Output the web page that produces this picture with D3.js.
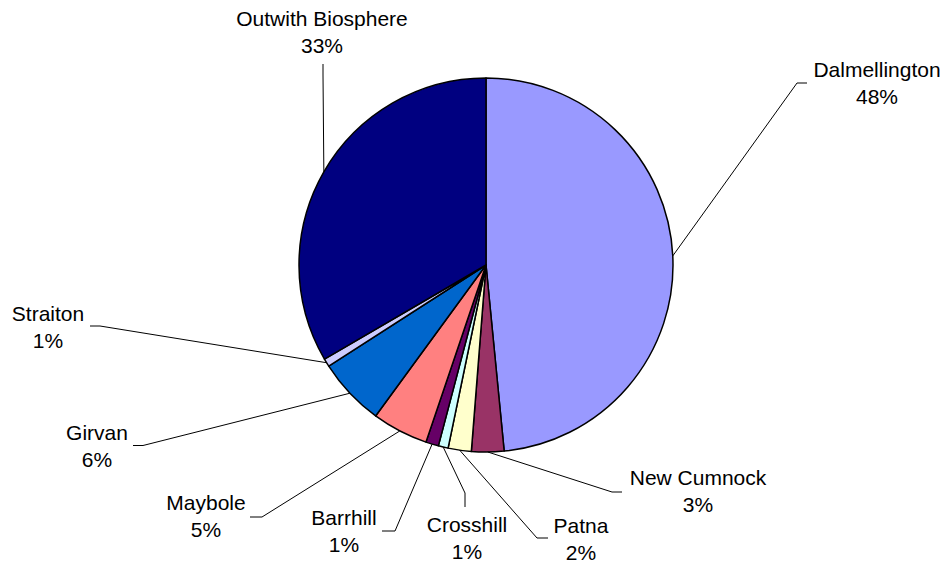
<!DOCTYPE html>
<html>
<head>
<meta charset="utf-8">
<script src="https://cdn.jsdelivr.net/npm/d3@7"></script>
<style>
  html, body { margin: 0; padding: 0; background: #ffffff; }
  svg { display: block; }
  text { font-family: "Liberation Sans", Arial, sans-serif; font-size: 21px; fill: #000; }
</style>
</head>
<body>
<svg id="chart" width="948" height="568"></svg>
<script>
// ---- data ----
const categories = ["Dalmellington", "New Cumnock", "Patna", "Crosshill", "Barrhill",
                    "Maybole", "Girvan", "Straiton", "Outwith Biosphere"];
const values = [48.45, 2.8, 2.0, 0.85, 1.1, 4.85, 5.85, 0.7, 33.4];
const colors = ["#9999FF", "#993366", "#FFFFCC", "#CCFFFF", "#660066",
                "#FF8080", "#0066CC", "#CCCCFF", "#000080"];

// ---- layout (label centre x, first baseline y; leader elbow + end) ----
const labelLayout = [
  { x: 877, y: 77,  elbow: [797, 83],  end: [807, 83] },
  { x: 698, y: 485, elbow: [612, 492], end: [622, 492] },
  { x: 581, y: 533, elbow: [537, 538], end: [548, 538] },
  { x: 467, y: 532, elbow: [465, 493], end: [465, 507] },
  { x: 344, y: 525, elbow: [395, 531], end: [382, 531] },
  { x: 206, y: 510, elbow: [262, 517], end: [250, 517] },
  { x: 97,  y: 440, elbow: [143, 445.5], end: [133, 445.5] },
  { x: 48,  y: 321, elbow: [100, 326], end: [90, 326] },
  { x: 322, y: 26,  elbow: [323, 75],  end: [323, 64] }
];

const cx = 486, cy = 265, R = 187;
const svg = d3.select("#chart");
const g = svg.append("g").attr("transform", `translate(${cx},${cy})`);

const total = d3.sum(values);
const pie = d3.pie().sort(null).value(d => d)
  .startAngle(0).endAngle(2 * Math.PI);
const arcs = pie(values);
const arc = d3.arc().innerRadius(0).outerRadius(R);

g.selectAll("path.slice")
  .data(arcs)
  .enter().append("path")
  .attr("class", "slice")
  .attr("d", arc)
  .attr("fill", (d, i) => colors[i])
  .attr("stroke", "#000")
  .attr("stroke-width", 1.5)
  .attr("stroke-linejoin", "round");

// leader lines
arcs.forEach((d, i) => {
  const a = (d.startAngle + d.endAngle) / 2;
  const sx = cx + R * Math.sin(a), sy = cy - R * Math.cos(a);
  const L = labelLayout[i];
  svg.append("path")
    .attr("d", d3.line()([[sx, sy], L.elbow, L.end]))
    .attr("fill", "none")
    .attr("stroke", "#000")
    .attr("stroke-width", 1);
  const t = svg.append("text").attr("text-anchor", "middle");
  t.append("tspan").attr("x", L.x).attr("y", L.y).text(categories[i]);
  t.append("tspan").attr("x", L.x).attr("y", L.y + 26.7)
    .text(Math.round(values[i] / total * 100) + "%");
});
</script>
</body>
</html>
